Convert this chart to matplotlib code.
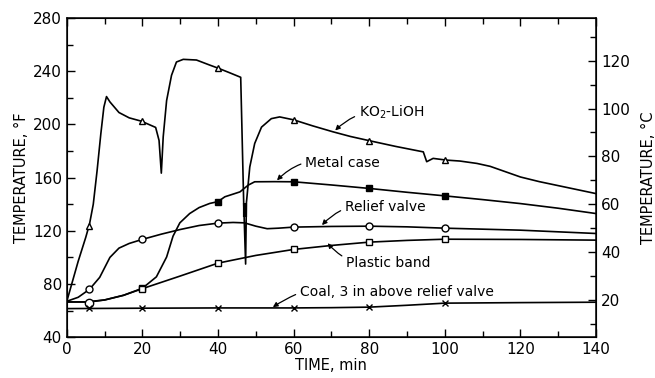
import numpy as np
import matplotlib.pyplot as plt
from matplotlib.ticker import MultipleLocator

plt.rcParams['font.family'] = ['DejaVu Sans']

# ---- data (time in min, temperature in deg F) ----
ko2_t = [0, 1, 2, 3, 4, 5, 6, 7, 8, 9, 9.8, 10.5, 11.4, 13.8, 16.5, 19.7, 23.5, 24.4, 25,
         25.5, 26.4, 27.7, 29, 30.8, 34.3, 37.8, 40, 43, 46, 46.3, 46.8, 47.3, 47.5, 48.4,
         49.7, 51.5, 54.1, 56.3, 60, 65, 70.4, 75, 80.2, 87, 94.3, 95.2, 96.9, 100.4, 104,
         108.5, 112, 116, 120, 125, 130, 135, 140]
ko2_T = [67, 77, 87, 97, 106, 115, 125, 140, 165, 193, 213, 221, 217, 209, 205, 202.5,
         197.8, 188, 163.4, 190.7, 218, 237, 247, 249, 248.5, 244.7, 242.4, 239, 235.5, 200,
         140, 95, 140.8, 168, 185.7, 198, 204.4, 205.7, 203.5, 199, 194.5, 191, 187.7, 183.5,
         179.4, 172, 174.5, 173.2, 172.5, 170.7, 168.5, 164.5, 160.5, 157, 154, 151, 148]

metal_t = [0, 5, 10, 15, 20, 23.7, 26.4, 28.1, 29.9, 32.5, 35, 37.8, 40, 41.8, 45.8, 48,
           49.7, 55, 60, 70, 80, 90, 100, 110, 120, 130, 140]
metal_T = [66.5, 66.5, 68, 71.5, 76.8, 85.4, 100.3, 116, 126, 133, 137.5, 140.6, 142,
           145.6, 149.3, 154.4, 156.9, 157, 156.9, 154.5, 151.9, 149, 146.3, 143.5, 140.5,
           137, 133]

relief_t = [0, 3, 6, 8.7, 11.4, 13.8, 16.5, 19.9, 25, 30, 35, 40, 44, 47, 50, 53, 56, 60,
            70, 80, 90, 100, 120, 140]
relief_T = [67, 70, 76, 85, 100, 107, 110.5, 113.5, 117.5, 121, 124, 125.8, 126.3, 126,
            123.5, 121.6, 122, 122.8, 123.3, 123.5, 123, 122, 120.5, 118]

plastic_t = [0, 6, 10, 15, 20, 30, 40, 50, 60, 70, 80, 90, 100, 120, 140]
plastic_T = [66.5, 66.5, 68, 71.5, 76.5, 86, 95.7, 101.5, 106, 109, 111.5, 112.8, 113.7,
             113.5, 113]

coal_t = [0, 20, 40, 60, 70, 80, 90, 100, 120, 140]
coal_T = [61.5, 61.8, 62, 62, 62.2, 62.6, 64, 65.6, 66, 66.3]

# marker points
mark_t = [6, 20, 40, 60, 80, 100]
ko2_mark = [124, 202.5, 242.4, 203.5, 187.7, 173.5]
metal_mark_t = [20, 40, 60, 80, 100]
metal_mark = [76.8, 142, 156.9, 151.9, 146.3]
relief_mark = [76, 113.5, 125.8, 122.8, 123.5, 122]
plastic_mark_t = [20, 40, 60, 80, 100]
plastic_mark = [76.5, 95.7, 106, 111.5, 113.7]
coal_mark = [61.8, 61.8, 62, 62, 62.6, 65.6]

labels = ['KO$_2$-LiOH', 'Metal case', 'Relief valve', 'Plastic band',
          'Coal, 3 in above relief valve']
label_xy = [(77.2, 209.5), (63, 170.7), (73.5, 137.8), (73.8, 95.7), (61.6, 73.9)]
label_tip = [(71, 195.5), (55.6, 158), (67.5, 124.3), (69, 110.7), (54.5, 62.6)]
label_rad = [0.25, 0.3, 0.3, -0.3, 0.25]

fig = plt.figure(figsize=(6.55, 3.78), dpi=100)
ax = fig.add_axes([0.102, 0.108, 0.808, 0.844])

lw = 1.2
ax.plot(ko2_t, ko2_T, color='k', lw=lw)
ax.plot(metal_t, metal_T, color='k', lw=lw)
ax.plot(relief_t, relief_T, color='k', lw=lw)
ax.plot(plastic_t, plastic_T, color='k', lw=lw)
ax.plot(coal_t, coal_T, color='k', lw=lw)
# odd vertical marker on metal case near 47 min
ax.plot([47.1, 47.1], [130.5, 140.6], color='k', lw=3, solid_capstyle='butt')

ms = 5
ax.plot(mark_t, ko2_mark, ls='none', marker='^', ms=ms, mfc='white', mec='k', mew=1)
ax.plot(metal_mark_t, metal_mark, ls='none', marker='s', ms=ms, mfc='k', mec='k')
ax.plot(mark_t, relief_mark, ls='none', marker='o', ms=ms, mfc='white', mec='k', mew=1)
ax.plot(plastic_mark_t, plastic_mark, ls='none', marker='s', ms=ms, mfc='white', mec='k', mew=1)
ax.plot([6], [65.6], ls='none', marker='o', ms=6, mfc='white', mec='k', mew=1)
ax.plot(mark_t, coal_mark, ls='none', marker='x', ms=4, mec='k', mew=1)

for txt, xy, tip, rad in zip(labels, label_xy, label_tip, label_rad):
    ax.annotate(txt, xy=tip, xytext=xy, ha='left', va='center', fontsize=10,
                arrowprops=dict(arrowstyle='-|>', color='k', lw=0.9, mutation_scale=7,
                                shrinkA=1, shrinkB=0,
                                connectionstyle='arc3,rad=%s' % rad))

ax.set_xlim(0, 140)
ax.set_ylim(40, 280)
ax.xaxis.set_major_locator(MultipleLocator(20))
ax.xaxis.set_minor_locator(MultipleLocator(10))
ax.yaxis.set_major_locator(MultipleLocator(40))
ax.yaxis.set_minor_locator(MultipleLocator(20))
ax.tick_params(which='both', direction='in', top=True, labelsize=11, width=1)
ax.tick_params(which='major', length=6)
ax.tick_params(which='minor', length=4)
ax.set_xlabel('TIME, min', fontsize=10.5, labelpad=1)
ax.set_ylabel('TEMPERATURE, \u00b0F', fontsize=10.5, labelpad=3)
for s in ax.spines.values():
    s.set_linewidth(1.1)

ax2 = ax.twinx()
ax2.set_ylim((40 - 32) / 1.8, (280 - 32) / 1.8)
ax2.yaxis.set_minor_locator(MultipleLocator(10))
ax2.set_yticks([20, 40, 60, 80, 100, 120])
ax2.tick_params(which='both', direction='in', labelsize=11, width=1)
ax2.tick_params(which='major', length=6)
ax2.tick_params(which='minor', length=4)
ax2.set_ylabel('TEMPERATURE, \u00b0C', fontsize=10.5, labelpad=8)

fig.savefig('out.png', dpi=100)
